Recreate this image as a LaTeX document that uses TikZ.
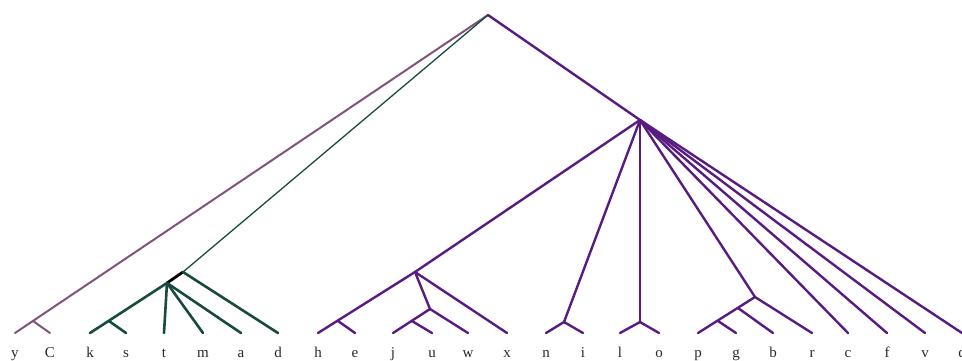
\documentclass[tikz,border=0pt]{standalone}
\usepackage{fontspec}
\setmainfont{Liberation Serif}
\usepackage{tikz}
\usetikzlibrary{calc}
\definecolor{clmauve}{RGB}{128,84,124}
\definecolor{clgreen}{RGB}{24,74,66}
\definecolor{clpurple}{RGB}{88,28,128}
\definecolor{cltext}{RGB}{40,40,40}

\begin{document}
\begin{tikzpicture}[x=1pt,y=-1pt,line cap=round,line join=round,
    leaf/.style={inner sep=0pt,anchor=base,text=cltext,font=\fontsize{15}{17}\selectfont},
    mauvebr/.style={clmauve,line width=2pt},
    greenbr/.style={clgreen,line width=2.6pt},
    purplebr/.style={clpurple,line width=2.4pt}]
    \useasboundingbox (0,0) rectangle (962,360);
    % leaves: tip and label
    \foreach \lab/\x in {y/15,C/50,k/90,s/126,t/164,m/203,a/241,d/278,h/318,e/355,
       j/393,u/432,w/468,x/507,n/546,i/583,l/620,o/659,p/698,g/736,b/773,r/812,
       c/848,f/887,v/925,q/962}{
       \coordinate (t\lab) at (\x,333);
       \node[leaf] (l\lab) at (\x,357) {\lab};}
    % internal nodes
    \coordinate (root) at (488,15);
    \coordinate (yC) at (33,321);
    \coordinate (gd) at (183,272);
    \coordinate (gk) at (167,283);
    \coordinate (ks) at (109,321);
    \coordinate (hub) at (640,120);
    \coordinate (hx) at (415,272);
    \coordinate (he) at (338,321);
    \coordinate (jw) at (430,309);
    \coordinate (ju) at (412,321);
    \coordinate (ni) at (564,322);
    \coordinate (lo) at (640,322);
    \coordinate (pr) at (755,297);
    \coordinate (pb) at (738,308);
    \coordinate (pg) at (718,321);
    % y and C
    \draw[mauvebr] (root) -- (ty);
    \draw[mauvebr] (yC) -- (tC);
    % k .. d
    \draw[clgreen,line width=1.3pt] (root) -- (gd);
    \draw[black,line width=2.8pt] (gd) -- (gk);
    \draw[greenbr] (gd) -- (td);
    \draw[greenbr] (gk) -- (tk);
    \draw[greenbr] (ks) -- (ts);
    \foreach \lab in {t,m,a}
       \draw[greenbr] (gk) -- (t\lab);
    % h .. q
    \draw[purplebr] (root) -- (hub);
    \draw[purplebr] (hub) -- (hx);
    \draw[purplebr] (hx) -- (th);
    \draw[purplebr] (he) -- (te);
    \draw[purplebr] (hx) -- (jw);
    \draw[purplebr] (jw) -- (tj);
    \draw[purplebr] (ju) -- (tu);
    \draw[purplebr] (jw) -- (tw);
    \draw[purplebr] (hx) -- (tx);
    \draw[purplebr] (hub) -- (ni);
    \draw[purplebr] (ni) -- (tn);
    \draw[purplebr] (ni) -- (ti);
    \draw[purplebr] (hub) -- (lo);
    \draw[purplebr] (lo) -- (tl);
    \draw[purplebr] (lo) -- (to);
    \draw[purplebr] (hub) -- (pr);
    \draw[purplebr] (pr) -- (tp);
    \draw[purplebr] (pg) -- (tg);
    \draw[purplebr] (pb) -- (tb);
    \draw[purplebr] (pr) -- (tr);
    \foreach \lab in {c,f,v,q}
       \draw[purplebr] (hub) -- (t\lab);
\end{tikzpicture}
\end{document}
